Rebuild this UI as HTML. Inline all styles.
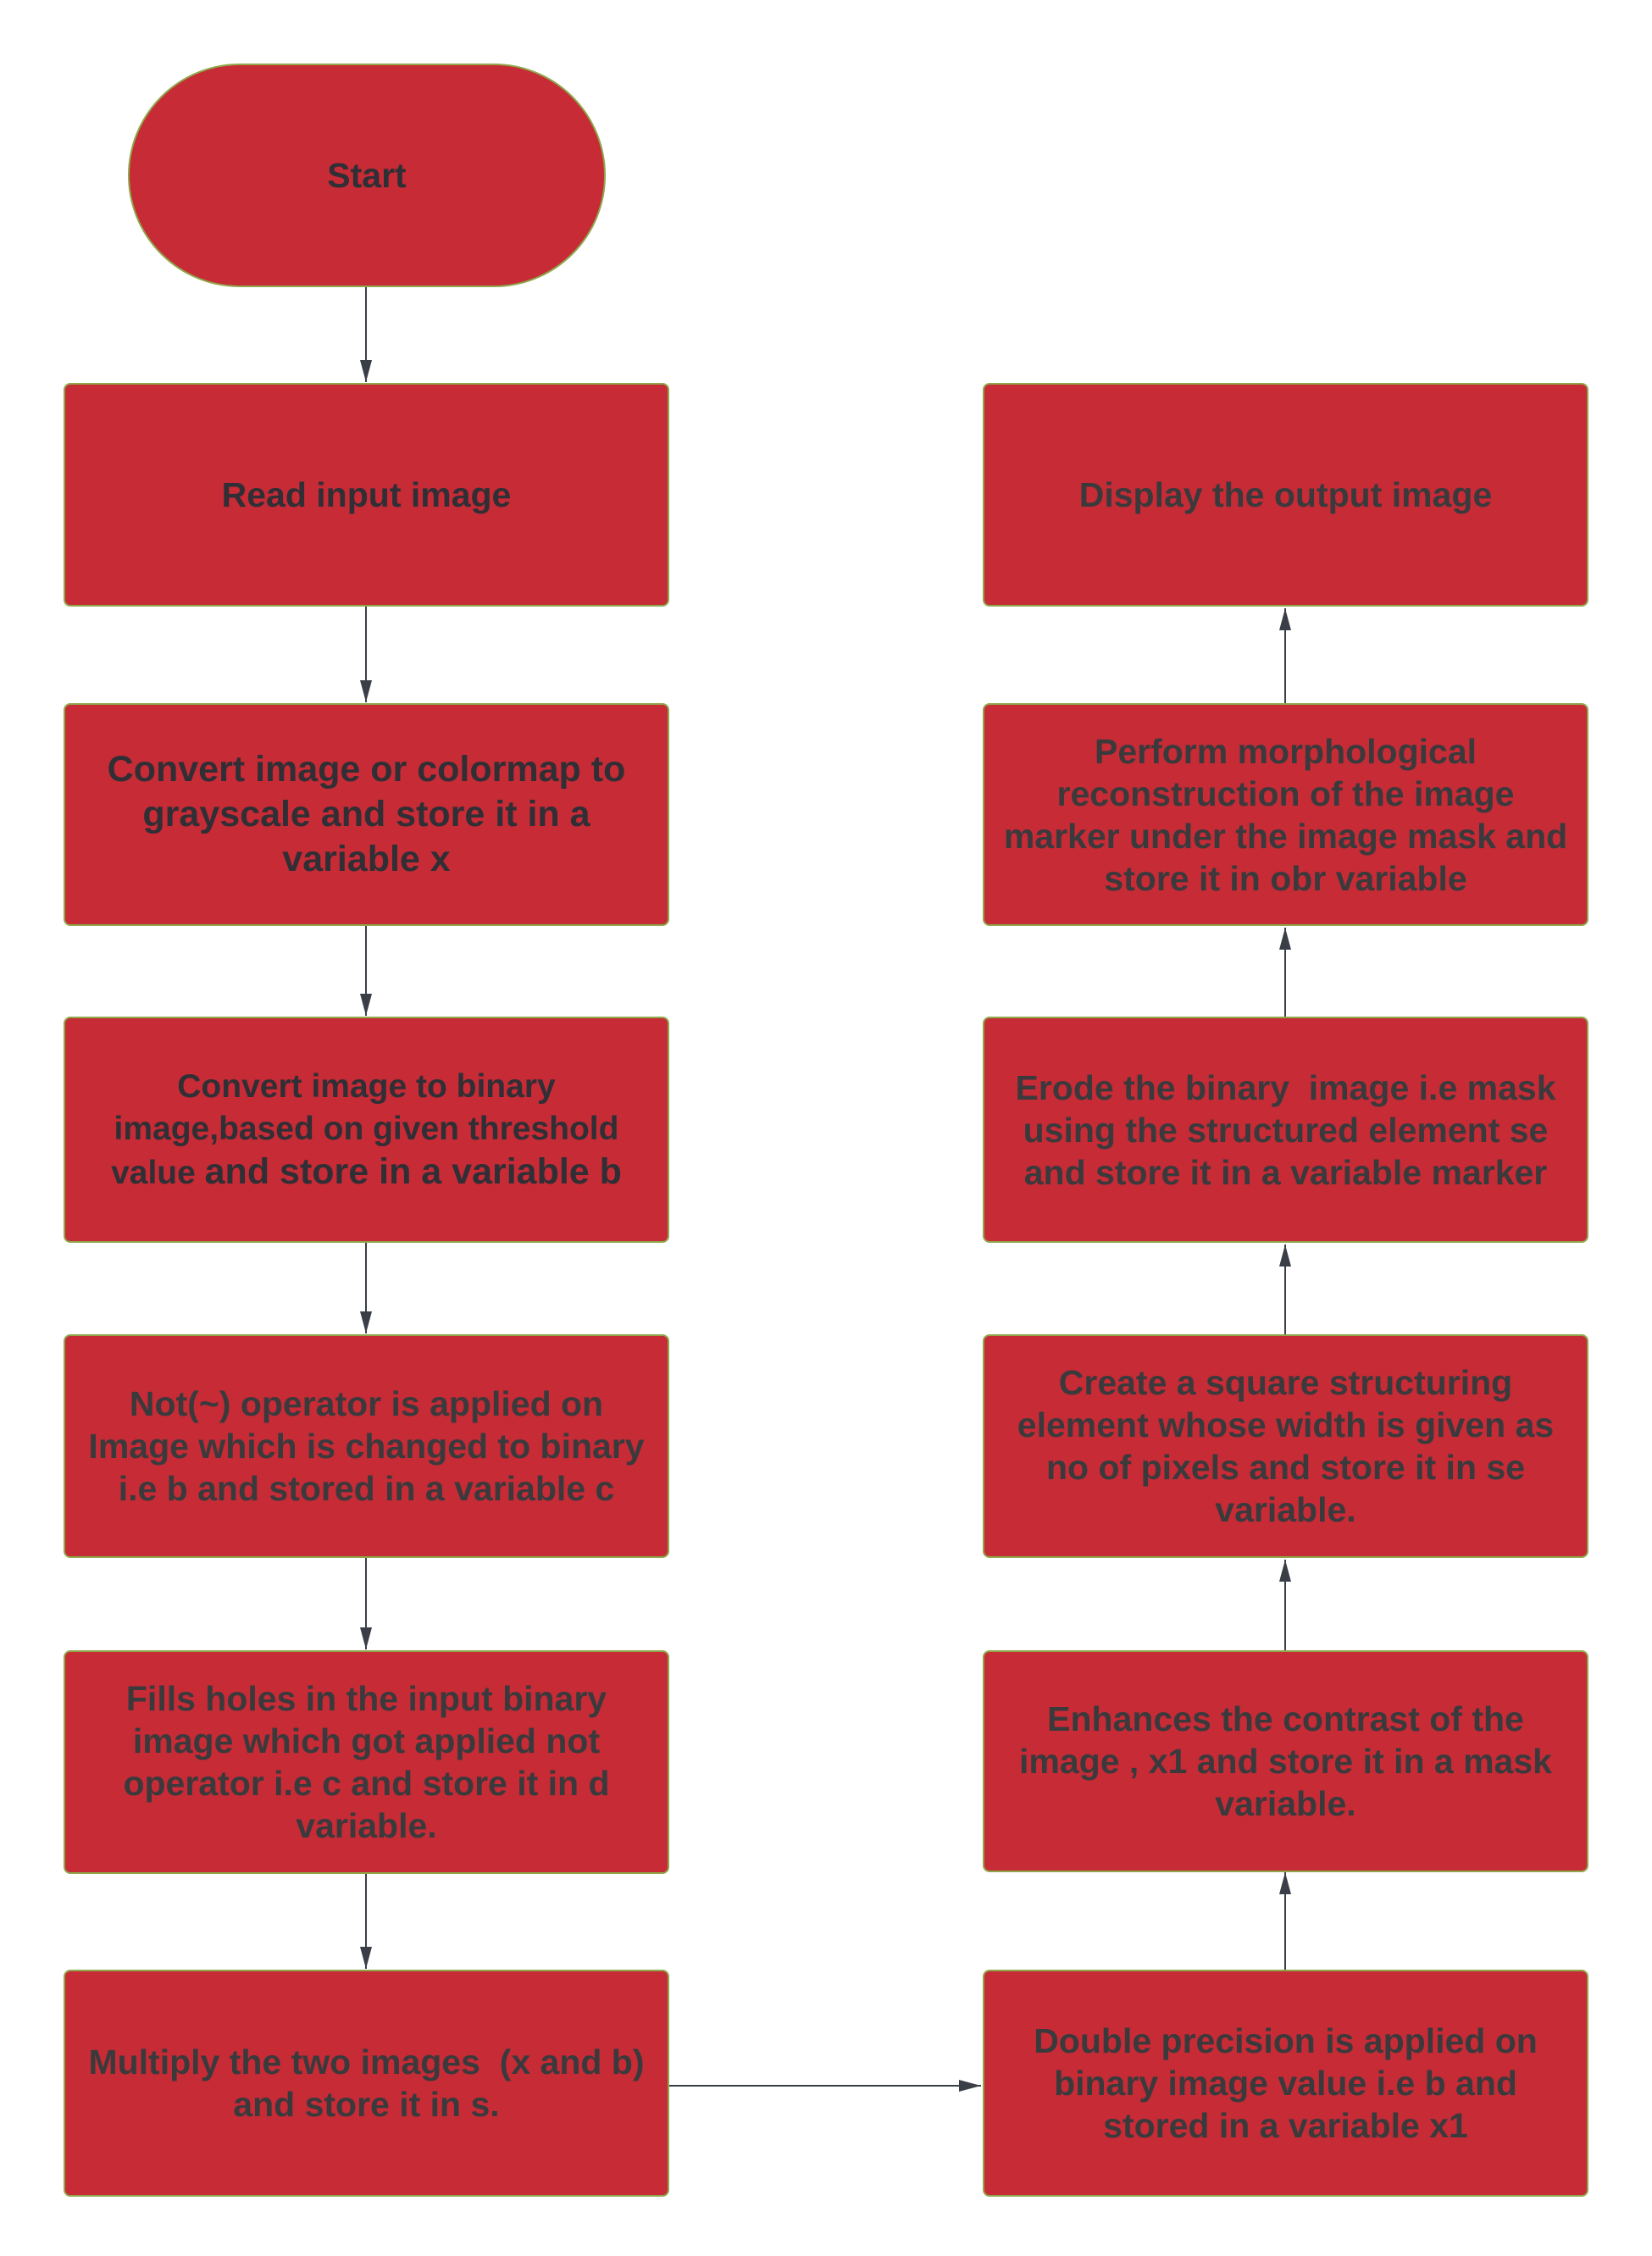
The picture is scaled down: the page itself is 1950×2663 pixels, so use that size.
<!DOCTYPE html>
<html><head><meta charset="utf-8"><style>
html,body{margin:0;padding:0;background:#fff;}
body{width:1950px;height:2663px;position:relative;overflow:hidden;font-family:"Liberation Sans",Arial,sans-serif;}
.b{position:absolute;box-sizing:border-box;background:#c62b36;border:2px solid #8fa64a;border-radius:8px;display:flex;align-items:center;justify-content:center;text-align:center;font-weight:bold;color:#3a3a3d;font-size:41px;line-height:50px;padding:0 14px;}
.L{left:75px;width:715px;}
.R{left:1160px;width:715px;}
svg{position:absolute;left:0;top:0;}
</style></head><body>
<svg width="1950" height="2663">
<defs>
<marker id="m" viewBox="0 0 26 14" refX="26" refY="7" markerWidth="26" markerHeight="14" orient="auto" markerUnits="userSpaceOnUse"><path d="M0,0 L26,7 L0,14 z" fill="#3a3f47"/></marker></defs>
<g stroke="#3a3f47" stroke-width="2" fill="none">
<line x1="432" y1="339" x2="432" y2="451" marker-end="url(#m)"/>
<line x1="432" y1="716" x2="432" y2="829" marker-end="url(#m)"/>
<line x1="432" y1="1093" x2="432" y2="1199" marker-end="url(#m)"/>
<line x1="432" y1="1467" x2="432" y2="1574" marker-end="url(#m)"/>
<line x1="432" y1="1839" x2="432" y2="1947" marker-end="url(#m)"/>
<line x1="432" y1="2212" x2="432" y2="2324" marker-end="url(#m)"/>
<line x1="790" y1="2462" x2="1158" y2="2462" marker-end="url(#m)"/>
<line x1="1517" y1="2325" x2="1517" y2="2210" marker-end="url(#m)"/>
<line x1="1517" y1="1948" x2="1517" y2="1841" marker-end="url(#m)"/>
<line x1="1517" y1="1575" x2="1517" y2="1469" marker-end="url(#m)"/>
<line x1="1517" y1="1200" x2="1517" y2="1095" marker-end="url(#m)"/>
<line x1="1517" y1="830" x2="1517" y2="718" marker-end="url(#m)"/>
</g></svg>
<div class="b" style="left:151px;top:75px;width:564px;height:264px;border-radius:132px;color:#2f2f35;">Start</div>
<div class="b L" style="top:452px;height:264px;color:#2f2f35;">Read input image</div>
<div class="b L" style="top:830px;height:263px;color:#2f2f35;font-size:43px;line-height:53px;">Convert image or colormap to grayscale and store it in a variable x</div>
<div class="b L" style="top:1200px;height:267px;color:#2f2f35;font-size:39px;line-height:50px;"><div>Convert image to binary<br>image,based on given threshold<br>value <span style="font-size:43px">and store in a variable b</span></div></div>
<div class="b L" style="top:1575px;height:264px;">Not(~) operator is applied on Image which is changed to binary i.e b and stored in a variable c</div>
<div class="b L" style="top:1948px;height:264px;">Fills holes in the input binary image which got applied not operator i.e c and store it in d variable.</div>
<div class="b L" style="top:2325px;height:268px;">Multiply the two images&nbsp; (x and b) and store it in s.</div>
<div class="b R" style="top:452px;height:264px;">Display the output image</div>
<div class="b R" style="top:830px;height:263px;">Perform morphological reconstruction of the image marker under the image mask and store it in obr variable</div>
<div class="b R" style="top:1200px;height:267px;">Erode the binary&nbsp; image i.e mask using the structured element se and store it in a variable marker</div>
<div class="b R" style="top:1575px;height:264px;">Create a square structuring element whose width is given as no of pixels and store it in se variable.</div>
<div class="b R" style="top:1948px;height:262px;">Enhances the contrast of the image , x1 and store it in a mask variable.</div>
<div class="b R" style="top:2325px;height:268px;">Double precision is applied on binary image value i.e b and stored in a variable x1</div>
</body></html>
